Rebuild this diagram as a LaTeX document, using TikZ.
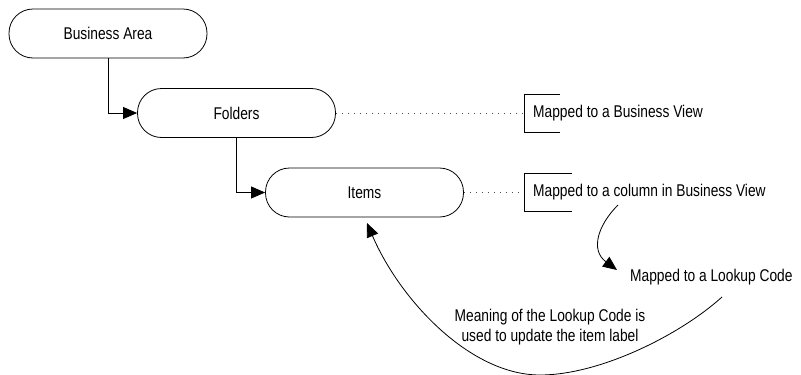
\documentclass[tikz,border=0pt]{standalone}
\usepackage{fontspec}
\setmainfont{Liberation Sans}[FakeStretch=0.81]
\usetikzlibrary{arrows.meta}
\tikzset{
  area/.style={draw, rounded corners=24pt, minimum width=198pt, minimum height=49pt, line width=0.8pt},
  note/.style={anchor=west, inner sep=0pt},
  link/.style={line width=0.8pt, -{Triangle[length=14pt,width=12pt]}},
  mapline/.style={black!70, line width=1pt, dash pattern=on 1pt off 5pt}
}

\begin{document}
\begin{tikzpicture}[x=1pt,y=-1pt,font=\fontsize{17}{20}\selectfont]
    \useasboundingbox (0,0) rectangle (801,375);
    \node[area] (ba) at (108,33.5) {Business Area};
    \node[area] (fold) at (236.5,113) {Folders};
    \node[area] (items) at (364.5,192.5) {Items};
    \draw[link] (ba.south) |- (fold.west);
    \draw[link] (fold.south) |- (items.west);
    \coordinate (bv) at (524,113);
    \coordinate (bc) at (524,192.5);
    \draw[mapline] (fold.east) -- (bv);
    \draw[mapline] (items.east) -- (bc);
    \foreach \y/\w in {113/36,192.5/48}
    \draw[line width=0.8pt] (524+\w,\y-19) -| (524,\y+19) -- (524+\w,\y+19);
    \node[note] (bview) at (533,113) {Mapped to a Business View};
    \node[note] (bcol) at (533,192.5) {Mapped to a column in Business View};
    \node[note] (lookup) at (630,277) {Mapped to a Lookup Code};
    \node[align=center, inner sep=0pt] (meaning) at (550,327) {Meaning of the Lookup Code is\\used to update the item label};
    \coordinate (c1) at (618,205);
    \coordinate (c2) at (617,270);
    \draw[link] (c1) .. controls (598,225) and (590,250) .. (c2);
    \coordinate (c3) at (722,297);
    \coordinate (c4) at (367,223);
    \draw[link] (c3) .. controls (680,335) and (600,375) .. (540,375)
      .. controls (470,375) and (400,300) .. (c4);
\end{tikzpicture}
\end{document}
